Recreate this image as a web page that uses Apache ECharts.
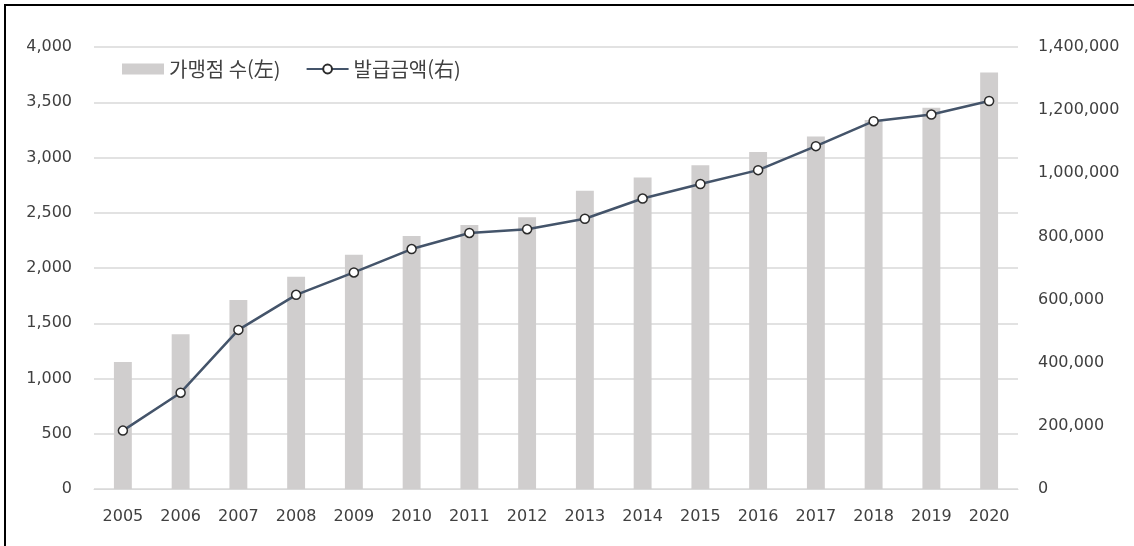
<!DOCTYPE html>
<html lang="ko">
<head>
<meta charset="UTF-8">
<title>가맹점 수 및 발급금액</title>
<script src="https://cdn.jsdelivr.net/npm/echarts@6/dist/echarts.min.js"></script>
<style>
  html, body { margin: 0; padding: 0; background: #fff; }
  #chart { width: 1134px; height: 546px; }
  #frame { position: absolute; left: 4px; top: 4px; right: 0; bottom: 0;
           border-top: 2px solid #000; border-left: 2px solid #000; pointer-events: none; }
</style>
</head>
<body>
<div id="chart"></div>
<div id="frame"></div>
<script>
// years
const years = ['2005', '2006', '2007', '2008', '2009', '2010', '2011', '2012',
               '2013', '2014', '2015', '2016', '2017', '2018', '2019', '2020'];
// 가맹점 수 (left axis)
const stores = [1150, 1400, 1710, 1920, 2120, 2290, 2390, 2460,
                2700, 2820, 2930, 3050, 3190, 3340, 3450, 3770];
// 발급금액 (right axis)
const issued = [185000, 305000, 504000, 615000, 686000, 760000, 811000, 823000,
                856000, 920000, 966000, 1010000, 1086000, 1165000, 1186000, 1229000];

const numFont = '"DejaVu Sans", "Noto Sans", sans-serif';
const krFont = '"Noto Sans CJK KR", "Noto Sans", sans-serif';
const fmt = v => v.toLocaleString('en-US');

echarts.init(document.getElementById('chart')).setOption({
  animation: false,
  textStyle: { fontFamily: numFont },
  grid: { left: 94, right: 116, top: 47, bottom: 57 },
  legend: {
    left: 117, top: 54,
    itemWidth: 42, itemHeight: 11, itemGap: 25,
    textStyle: { fontSize: 20, color: '#404040', fontFamily: krFont },
    data: [
      { name: '가맹점 수(左)', icon: 'rect' },
      { name: '발급금액(右)' }
    ]
  },
  xAxis: {
    type: 'category',
    data: years,
    axisLine: { show: true, lineStyle: { color: '#d9d9d9' } },
    axisTick: { show: false },
    axisLabel: { fontSize: 16, color: '#404040', margin: 20 }
  },
  yAxis: [
    {
      type: 'value', min: 0, max: 4000, interval: 500,
      axisLine: { show: false }, axisTick: { show: false },
      splitLine: { lineStyle: { color: '#d9d9d9', width: 1.5 } },
      axisLabel: { fontSize: 16, color: '#404040', margin: 22, formatter: fmt }
    },
    {
      type: 'value', min: 0, max: 1400000, interval: 200000,
      axisLine: { show: false }, axisTick: { show: false },
      splitLine: { show: false },
      axisLabel: { fontSize: 16, color: '#404040', margin: 20, formatter: fmt }
    }
  ],
  series: [
    {
      name: '가맹점 수(左)',
      type: 'bar',
      data: stores,
      barWidth: '31%',
      itemStyle: { color: '#d0cece' }
    },
    {
      name: '발급금액(右)',
      type: 'line',
      yAxisIndex: 1,
      data: issued,
      symbol: 'circle',
      symbolSize: 9,
      lineStyle: { color: '#44546a', width: 2.5 },
      itemStyle: { color: '#fff', borderColor: '#2b2b2b', borderWidth: 1.5 }
    }
  ]
});
</script>
</body>
</html>
